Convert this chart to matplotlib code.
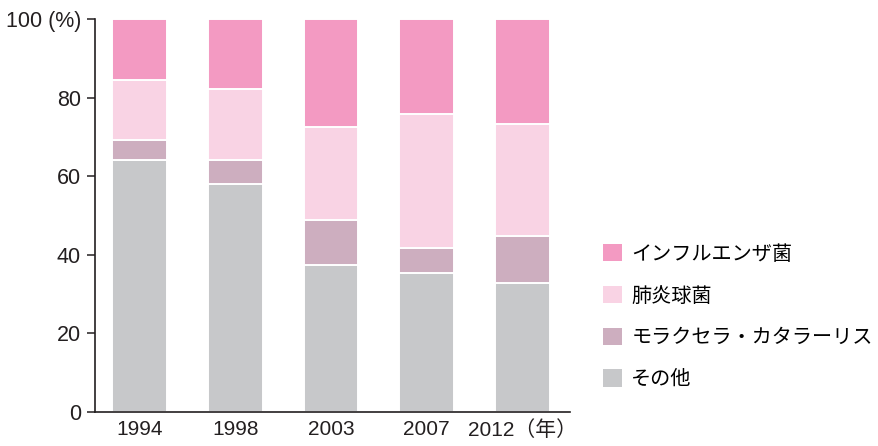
import numpy as np
import matplotlib
matplotlib.use("Agg")
import matplotlib.pyplot as plt
from matplotlib.patches import Patch

plt.rcParams["font.family"] = ["Liberation Sans", "Noto Sans CJK JP"]

years = ["1994", "1998", "2003", "2007", "2012（年）"]
series_names = ["その他", "モラクセラ・カタラーリス", "肺炎球菌", "インフルエンザ菌"]
other = [64.0, 58.0, 37.5, 35.4, 32.9]
moraxella = [5.3, 6.0, 11.4, 6.3, 11.8]
pneumo = [15.3, 18.2, 23.7, 34.2, 28.6]
influenza = [15.4, 17.8, 27.4, 24.1, 26.7]
colors = ["#c7c8ca", "#cdaebf", "#f9d3e4", "#f39ac2"]

yticks = [0, 20, 40, 60, 80, 100]
ytick_labels = ["0", "20", "40", "60", "80", "100 (%)"]

fig = plt.figure(figsize=(8.79, 4.46), dpi=100)
ax = fig.add_axes([95 / 879, 34 / 446, 475 / 879, 393 / 446])

x = np.arange(len(years))
bottom = np.zeros(len(years))
for vals, col in zip([other, moraxella, pneumo, influenza], colors):
    ax.bar(x, vals, 0.573, bottom=bottom, color=col,
           edgecolor="white", linewidth=1.4)
    bottom += np.array(vals)

ax.set_xlim(-0.464, len(years) - 1 + 0.495)
ax.set_ylim(0, 100)
ax.set_yticks(yticks)
ax.set_yticklabels(ytick_labels, fontsize=15.5, color="#231f20")
ax.set_xticks(x)
ax.set_xticklabels(years, fontsize=15, color="#231f20")
ax.tick_params(axis="x", length=0, pad=6)
ax.tick_params(axis="y", length=6, width=1.1, color="#231f20", pad=4)
for s in ["top", "right"]:
    ax.spines[s].set_visible(False)
for s in ["left", "bottom"]:
    ax.spines[s].set_color("#231f20")
    ax.spines[s].set_linewidth(1.2)

handles = [Patch(facecolor=c, edgecolor="none") for c in colors[::-1]]
fig.legend(handles, series_names[::-1], loc="upper left",
           bbox_to_anchor=(585 / 879, 1 - 226 / 446), frameon=False,
           fontsize=14.5, handlelength=0.95, handleheight=0.95,
           handletextpad=0.45, labelspacing=1.1)

fig.savefig("out.png", dpi=100)
